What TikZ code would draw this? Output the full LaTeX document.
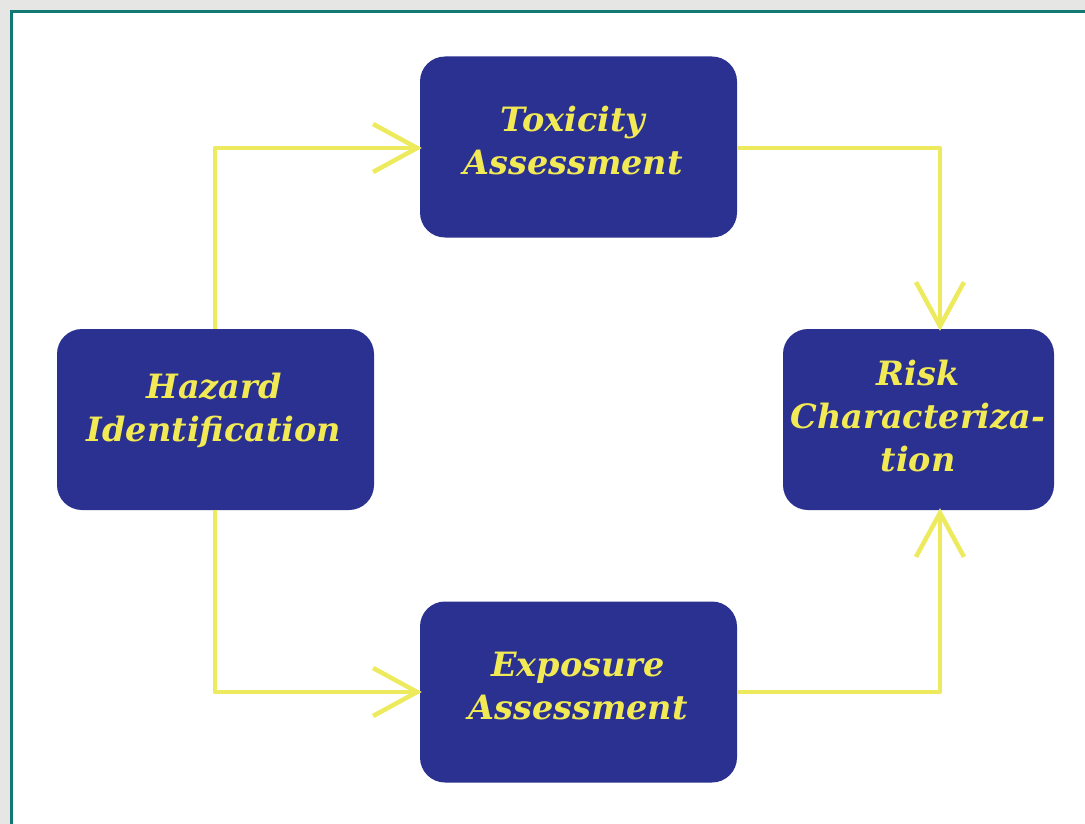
\documentclass[tikz,border=0pt]{standalone}
\usepackage{fontspec}
\setmainfont{DejaVu Serif}
\usetikzlibrary{arrows.meta}
\definecolor{boxblue}{HTML}{2B3190}
\definecolor{txtyellow}{HTML}{F2EA55}
\definecolor{arryellow}{HTML}{EEEA5E}
\definecolor{frameteal}{HTML}{127873}
\definecolor{paper}{HTML}{E6E6E4}
\tikzset{
  stagebox/.style={rectangle, rounded corners=25pt, fill=boxblue, text=txtyellow,
    font=\bfseries\itshape\fontsize{33.5}{43}\selectfont, align=center, inner sep=0pt},
  flow/.style={draw=arryellow, line width=4.5pt, line join=round, shorten >=-2pt,
    -{Straight Barb[length=44pt, width=48pt, line width=4.5pt]}}
}
\begin{document}
\begin{tikzpicture}[x=1pt, y=-1pt]
\useasboundingbox (0,0) rectangle (1085,824);
\fill[paper] (0,0) rectangle (1085,824);
\fill[white] (10,10) rectangle (1085,824);
\draw[frameteal, line width=3pt] (11.5,824) -- (11.5,11.5) -- (1085,11.5);
\node[stagebox, minimum width=317pt, minimum height=181pt] (tox) at (578.5,147) {};
\node[stagebox, minimum width=317pt, minimum height=181pt] (haz) at (215.5,419.5) {};
\node[stagebox, minimum width=271pt, minimum height=181pt] (risk) at (918.5,419.5) {};
\node[stagebox, minimum width=317pt, minimum height=181pt] (exp) at (578.5,692) {};
\node[stagebox, fill=none] (toxt) at (573,141) {Toxicity\\Assessment};
\node[stagebox, fill=none] (hazt) at (214,410) {Hazard\\Identification};
\node[stagebox, fill=none] (riskt) at (918,416) {Risk\\Characteriza-\\tion};
\node[stagebox, fill=none] (expt) at (578,686) {Exposure\\Assessment};
\draw[flow] (haz.north -| 215,0) |- (tox.west |- 0,148);
\draw[flow] (haz.south -| 215,0) |- (exp.west |- 0,692);
\draw[flow] (tox.east |- 0,148) -| (risk.north -| 940,0);
\draw[flow] (exp.east |- 0,692) -| (risk.south -| 940,0);
\end{tikzpicture}
\end{document}
